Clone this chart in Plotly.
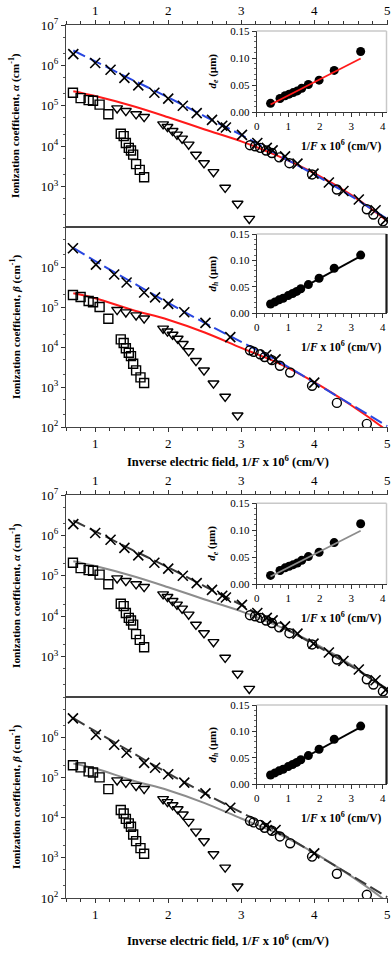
import plotly.graph_objects as go

# ---------------- data ----------------
# alpha (electrons)
A_X_X = [0.70, 1.00, 1.21, 1.40, 1.59, 1.81, 2.00, 2.20, 2.39, 2.60, 2.74, 2.79, 3.01, 3.22, 3.35, 3.43, 3.60, 3.77, 3.99, 4.20, 4.40, 4.61, 4.84, 4.98]
A_X_Y = [1.9e6, 1.15e6, 7.8e5, 4.9e5, 3.2e5, 2.1e5, 1.5e5, 1.0e5, 6.6e4, 4.5e4, 3.2e4, 2.9e4, 1.9e4, 1.2e4, 9.1e3, 7.9e3, 5.6e3, 3.7e3, 2.1e3, 1.26e3, 780, 480, 260, 150]
A_SQ_X = [0.695, 0.80, 0.91, 0.97, 1.06, 1.18, 1.35, 1.39, 1.42, 1.46, 1.49, 1.52, 1.56, 1.61, 1.67]
A_SQ_Y = [2.1e5, 1.55e5, 1.38e5, 1.33e5, 1.07e5, 6.2e4, 2.04e4, 1.78e4, 1.2e4, 9.1e3, 7.8e3, 6.2e3, 3.6e3, 2.6e3, 1.7e3]
A_TR_X = [1.30, 1.42, 1.56, 1.67, 1.93, 1.99, 2.06, 2.12, 2.19, 2.28, 2.38, 2.49, 2.62, 2.78, 2.95, 3.11]
A_TR_Y = [8.7e4, 7.5e4, 6.2e4, 5.3e4, 3.5e4, 3.0e4, 2.4e4, 1.95e4, 1.55e4, 1.1e4, 6.2e3, 3.8e3, 2.3e3, 940, 380, 160]
A_CI_X = [3.12, 3.19, 3.26, 3.34, 3.42, 3.52, 3.66, 3.97, 4.31, 4.72, 4.81, 4.94]
A_CI_Y = [1.06e4, 1.0e4, 9.1e3, 7.8e3, 6.8e3, 5.3e3, 3.8e3, 2.0e3, 850, 275, 204, 138]
FIT_X = [0.7, 1.0, 1.5, 2.0, 2.5, 3.0, 3.5, 4.0, 4.5, 5.0]
A_FIT1_Y = [2.34e6, 1.26e6, 4.47e5, 1.62e5, 5.5e4, 1.9e4, 6.2e3, 2.0e3, 590, 158]
A_FIT2_Y = [2.29e5, 1.74e5, 1.0e5, 5.2e4, 2.6e4, 1.32e4, 5.75e3, 2.14e3, 630, 141]

# beta (holes)
B_X_X = [0.695, 1.01, 1.26, 1.43, 1.67, 1.82, 2.0, 2.22, 2.51, 2.85, 3.34, 3.47, 4.0]
B_X_Y = [2.95e6, 1.15e6, 6.5e5, 4.1e5, 2.3e5, 1.74e5, 1.2e5, 7.4e4, 4.0e4, 1.76e4, 6.3e3, 4.9e3, 1.29e3]
B_SQ_X = [0.695, 0.80, 0.91, 0.97, 1.06, 1.18, 1.35, 1.39, 1.42, 1.46, 1.49, 1.52, 1.56, 1.62, 1.67]
B_SQ_Y = [2.0e5, 1.78e5, 1.41e5, 1.32e5, 1.0e5, 5.1e4, 1.55e4, 1.26e4, 9.3e3, 7.2e3, 5.9e3, 3.8e3, 2.6e3, 1.74e3, 1.26e3]
B_TR_X = [1.30, 1.42, 1.56, 1.67, 1.93, 1.99, 2.06, 2.13, 2.20, 2.28, 2.38, 2.49, 2.62, 2.78, 2.95]
B_TR_Y = [8.5e4, 7.4e4, 6.2e4, 5.2e4, 2.9e4, 2.45e4, 2.04e4, 1.62e4, 1.2e4, 7.9e3, 4.5e3, 2.6e3, 1.23e3, 575, 195]
B_CI_X = [3.12, 3.17, 3.26, 3.32, 3.42, 3.53, 3.67, 3.97, 4.31, 4.72]
B_CI_Y = [8.3e3, 7.6e3, 6.6e3, 5.6e3, 4.7e3, 3.4e3, 2.3e3, 1.07e3, 400, 120]
B_FIT1_Y = [3.0e6, 1.41e6, 4.2e5, 1.26e5, 4.0e4, 1.35e4, 4.5e3, 1.29e3, 370, 105]
B_FIT2_X = [0.7, 1.0, 1.5, 2.0, 2.5, 3.0, 3.5, 4.0, 4.5, 4.93, 5.0]
B_FIT2_Y = [2.2e5, 1.66e5, 8.5e4, 4.8e4, 2.3e4, 9.5e3, 4.0e3, 1.32e3, 355, 100, 79]

# insets: dead-space lengths
DE_X = [0.44, 0.74, 0.90, 1.03, 1.16, 1.29, 1.43, 1.64, 1.98, 2.46, 3.30]
DE_Y = [0.016, 0.025, 0.030, 0.033, 0.036, 0.039, 0.044, 0.051, 0.059, 0.077, 0.112]
DE_FIT_X = [0.44, 3.30]
DE_FIT_Y = [0.014, 0.099]
DH_X = [0.44, 0.58, 0.71, 0.84, 1.00, 1.14, 1.27, 1.40, 1.64, 1.98, 2.46, 3.30]
DH_Y = [0.017, 0.021, 0.025, 0.028, 0.033, 0.037, 0.041, 0.046, 0.054, 0.066, 0.085, 0.110]
DH_FIT_X = [0.44, 3.30]
DH_FIT_Y = [0.015, 0.108]

MAIN_TICKS = [1, 2, 3, 4, 5]
DEC_VALS = [1e2, 1e3, 1e4, 1e5, 1e6, 1e7]
DEC_TEXT = ["10<sup>2</sup>", "10<sup>3</sup>", "10<sup>4</sup>", "10<sup>5</sup>", "10<sup>6</sup>", "10<sup>7</sup>"]

W, H = 391, 954
FONT = "Liberation Serif"


def px_x(p):
    return p / W


def px_y(p):
    return 1 - p / H


fig = go.Figure()

panels = [
    dict(n=1, d="a", c1="#2846e0", c2="#ff1a1a", top=25, bot=227, side="top", lo=False, hi=True),
    dict(n=2, d="b", c1="#2846e0", c2="#ff1a1a", top=227, bot=427, side="bottom", lo=True, hi=False),
    dict(n=3, d="a", c1="#3a3a3a", c2="#8c8c8c", top=495, bot=697, side="top", lo=False, hi=True),
    dict(n=4, d="b", c1="#3a3a3a", c2="#8c8c8c", top=697, bot=898, side="bottom", lo=True, hi=False),
]

insets = [
    dict(n=5, d="e", lc="#ff1a1a", top=31, bot=112, right_black=False),
    dict(n=6, d="h", lc="#000000", top=234, bot=313, right_black=True),
    dict(n=7, d="e", lc="#8c8c8c", top=503.3, bot=584, right_black=False),
    dict(n=8, d="h", lc="#000000", top=705, bot=784, right_black=True),
]

layout = dict(
    width=W, height=H,
    margin=dict(l=0, r=0, t=0, b=0, autoexpand=False),
    paper_bgcolor="white", plot_bgcolor="rgba(0,0,0,0)",
    showlegend=False,
    font=dict(family=FONT, color="black", size=12),
)

mk_line = dict(color="black", width=1.4)

for p in panels:
    n = p["n"]
    xa = "x" if n == 1 else f"x{n}"
    ya = "y" if n == 1 else f"y{n}"
    if p["d"] == "a":
        sets = (A_X_X, A_X_Y, A_SQ_X, A_SQ_Y, A_TR_X, A_TR_Y, A_CI_X, A_CI_Y, FIT_X, A_FIT1_Y, FIT_X, A_FIT2_Y)
    else:
        sets = (B_X_X, B_X_Y, B_SQ_X, B_SQ_Y, B_TR_X, B_TR_Y, B_CI_X, B_CI_Y, FIT_X, B_FIT1_Y, B_FIT2_X, B_FIT2_Y)
    xx, xy, sx, sy, tx, ty, cx, cy, f1x, f1y, f2x, f2y = sets
    fig.add_trace(go.Scatter(x=f2x, y=f2y, mode="lines", line=dict(color=p["c2"], width=2, shape="spline", smoothing=1.0), xaxis=xa, yaxis=ya))
    fig.add_trace(go.Scatter(x=f1x, y=f1y, mode="lines", line=dict(color=p["c1"], width=2, dash="13px,5px", shape="spline", smoothing=1.0), xaxis=xa, yaxis=ya))
    fig.add_trace(go.Scatter(x=sx, y=sy, mode="markers", marker=dict(symbol="square-open", size=9, color="black", line=mk_line), xaxis=xa, yaxis=ya))
    fig.add_trace(go.Scatter(x=tx, y=ty, mode="markers", marker=dict(symbol="triangle-down-open", size=9.5, color="black", line=mk_line), xaxis=xa, yaxis=ya))
    fig.add_trace(go.Scatter(x=cx, y=cy, mode="markers", marker=dict(symbol="circle-open", size=9, color="black", line=mk_line), xaxis=xa, yaxis=ya))
    fig.add_trace(go.Scatter(x=xx, y=xy, mode="markers", marker=dict(symbol="x-thin", size=10, color="black", line=dict(color="black", width=1.6)), xaxis=xa, yaxis=ya))

    key_x = "xaxis" if n == 1 else f"xaxis{n}"
    key_y = "yaxis" if n == 1 else f"yaxis{n}"
    dom_y = [px_y(p["bot"]), px_y(p["top"])]
    layout[key_x] = dict(
        domain=[px_x(66), px_x(388)], range=[0.6, 5.01], anchor=ya, side=p["side"],
        tickvals=MAIN_TICKS, ticks="outside", ticklen=4, tickwidth=1, tickcolor="#333",
        showline=True, linecolor="#444", linewidth=1.2, mirror=True,
        showgrid=False, zeroline=False, automargin=False,
        minor=dict(dtick=0.2, ticks="outside", ticklen=2.5, tickcolor="#333"),
        tickfont=dict(family=FONT, size=13, color="black"),
    )
    vals = [v for v in DEC_VALS if (p["lo"] or v > 1e2) and (p["hi"] or v < 1e7)]
    texts = [t for v, t in zip(DEC_VALS, DEC_TEXT) if (p["lo"] or v > 1e2) and (p["hi"] or v < 1e7)]
    layout[key_y] = dict(
        domain=dom_y, type="log", range=[2, 7], anchor=xa,
        tickvals=vals, ticktext=texts, ticks="outside", ticklen=4, tickcolor="#333",
        showline=True, linecolor="#444", linewidth=1.2,
        showgrid=False, zeroline=False, automargin=False,
        minor=dict(ticks="outside", ticklen=2, tickcolor="#555", showgrid=False),
        tickfont=dict(family=FONT, size=13, color="black"),
    )

for ins in insets:
    n = ins["n"]
    xa, ya = f"x{n}", f"y{n}"
    if ins["d"] == "e":
        px_, py_, fx, fy = DE_X, DE_Y, DE_FIT_X, DE_FIT_Y
    else:
        px_, py_, fx, fy = DH_X, DH_Y, DH_FIT_X, DH_FIT_Y
    fig.add_trace(go.Scatter(x=px_, y=py_, mode="markers", marker=dict(symbol="circle", size=9, color="black"), xaxis=xa, yaxis=ya))
    fig.add_trace(go.Scatter(x=fx, y=fy, mode="lines", line=dict(color=ins["lc"], width=1.8), xaxis=xa, yaxis=ya))
    layout[f"xaxis{n}"] = dict(
        domain=[px_x(256.7), px_x(386.5)], range=[0, 4.12], anchor=ya,
        tickvals=[0, 1, 2, 3, 4], ticks="outside", ticklen=4, tickcolor="#333",
        showline=True, linecolor="#333", linewidth=1.2,
        showgrid=False, zeroline=False, automargin=False,
        minor=dict(dtick=0.25, ticks="outside", ticklen=2.5, tickcolor="#555"),
        tickfont=dict(family=FONT, size=11, color="black"),
    )
    layout[f"yaxis{n}"] = dict(
        domain=[px_y(ins["bot"]), px_y(ins["top"])], range=[0, 0.15], anchor=xa,
        tickvals=[0, 0.05, 0.10, 0.15], ticktext=["0.00", "0.05", "0.10", "0.15"],
        ticks="outside", ticklen=4, tickcolor="#333",
        showline=True, linecolor="#333", linewidth=1.2,
        showgrid=False, zeroline=False, automargin=False,
        minor=dict(dtick=0.01, ticks="outside", ticklen=2, tickcolor="#666"),
        tickfont=dict(family=FONT, size=11, color="black"),
    )

shapes = []
annotations = []
for ins in insets:
    n = ins["n"]
    shapes.append(dict(type="line", xref=f"x{n} domain", yref=f"y{n} domain", x0=0, x1=1, y0=1, y1=1,
                       line=dict(color="#c8c8c8", width=1.5)))
    shapes.append(dict(type="line", xref=f"x{n} domain", yref=f"y{n} domain", x0=1, x1=1, y0=0, y1=1,
                       line=dict(color="#1a1a1a" if ins["right_black"] else "#c8c8c8",
                                 width=2.2 if ins["right_black"] else 1.5)))
    cyy = (ins["top"] + ins["bot"]) / 2
    annotations.append(dict(x=px_x(212), y=px_y(cyy), xref="paper", yref="paper", textangle=-90,
                            xanchor="center", yanchor="middle",
                            text="<b><i>d</i><sub><i>%s</i></sub> (µm)</b>" % ins["d"], showarrow=False,
                            font=dict(family=FONT, size=11, color="black")))
    annotations.append(dict(x=px_x(341), y=px_y(ins["bot"] + 33), xref="paper", yref="paper",
                            xanchor="center", yanchor="middle",
                            text="<b>1/<i>F</i> x 10<sup>6</sup> (cm/V)</b>", showarrow=False,
                            font=dict(family=FONT, size=11.5, color="black")))

ylabels = [(126, "α"), (327, "β"), (596, "α"), (797, "β")]
for cyy, sym in ylabels:
    annotations.append(dict(x=px_x(15), y=px_y(cyy), xref="paper", yref="paper", textangle=-90,
                            xanchor="center", yanchor="middle",
                            text="<b>Ionization coefficient, <i>%s</i> (cm<sup>-1</sup>)</b>" % sym,
                            showarrow=False, font=dict(family=FONT, size=11.3, color="black")))
for cyy in (461, 940):
    annotations.append(dict(x=px_x(228), y=px_y(cyy), xref="paper", yref="paper",
                            xanchor="center", yanchor="middle",
                            text="<b>Inverse electric field, 1/<i>F</i> x 10<sup>6</sup> (cm/V)</b>",
                            showarrow=False, font=dict(family=FONT, size=12.5, color="black")))

layout["shapes"] = shapes
layout["annotations"] = annotations
fig.update_layout(**layout)
fig.write_html("out.html", config={"displayModeBar": False},
               post_script="document.body.style.margin='0';document.body.style.overflow='hidden';")
